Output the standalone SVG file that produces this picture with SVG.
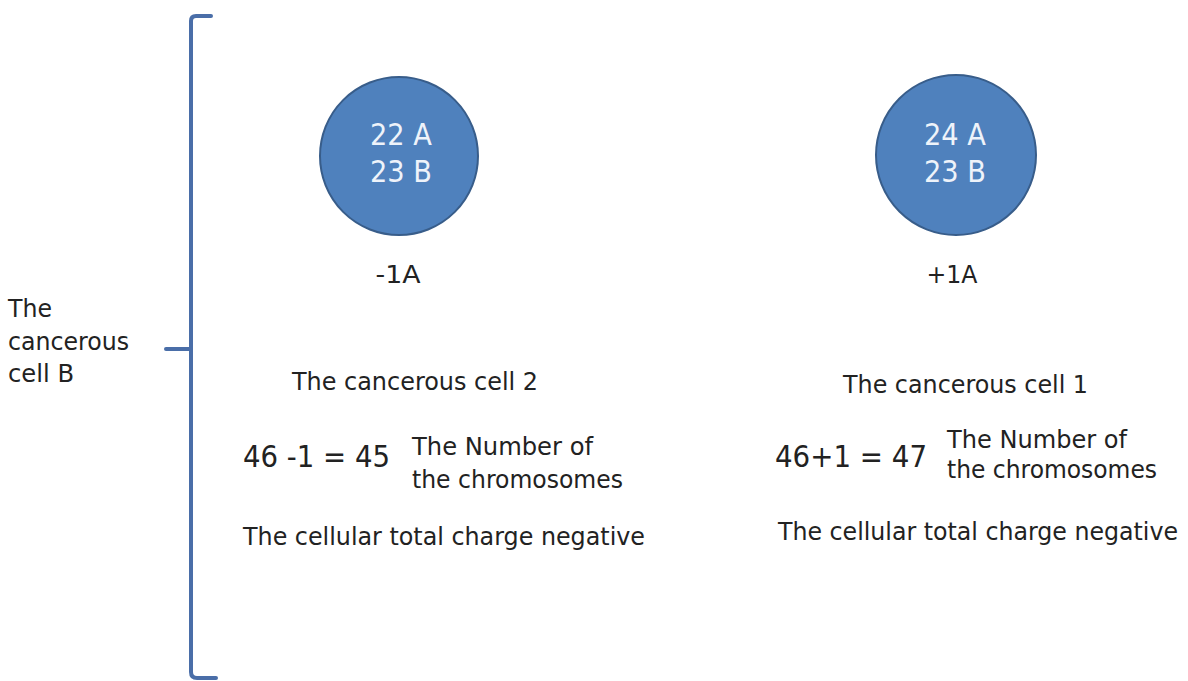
<svg xmlns="http://www.w3.org/2000/svg" width="1188" height="681" viewBox="0 0 1188 681">
<style>
.t{font-family:"DejaVu Sans","Liberation Sans",sans-serif;fill:#222;}
.c{fill:#4f81bd;stroke:#385d8a;stroke-width:2;}
.ct{font-family:"DejaVu Sans","Liberation Sans",sans-serif;fill:#eef3fa;font-size:30px;text-anchor:middle;}
.br{fill:none;stroke:#4a6ea8;stroke-width:4;stroke-linejoin:round;stroke-linecap:round;}
</style>
<rect width="1188" height="681" fill="#fff"/>
<g id="bracket">
<path class="br" d="M211,16 L196,16 Q191,16 191,21 L191,672 Q191,678 197,678 L216,678"/>
<path class="br" d="M166,349 L191,349"/>
</g>
<g id="label-cell-B">
<text class="t" font-size="24" x="8" y="317" textLength="44" lengthAdjust="spacingAndGlyphs">The</text>
<text class="t" font-size="24" x="8" y="350" textLength="121" lengthAdjust="spacingAndGlyphs">cancerous</text>
<text class="t" font-size="24" x="8" y="382" textLength="66" lengthAdjust="spacingAndGlyphs">cell B</text>
</g>
<g id="cell2">
<circle class="c" cx="399" cy="156" r="79"/>
<text class="ct" x="401" y="145" textLength="62" lengthAdjust="spacingAndGlyphs">22 A</text>
<text class="ct" x="401" y="182" textLength="62" lengthAdjust="spacingAndGlyphs">23 B</text>
<text class="t" font-size="24" x="398" y="283" text-anchor="middle" textLength="45" lengthAdjust="spacingAndGlyphs">-1A</text>
</g>
<g id="cell1">
<circle class="c" cx="956" cy="155" r="80"/>
<text class="ct" x="955" y="145" textLength="62" lengthAdjust="spacingAndGlyphs">24 A</text>
<text class="ct" x="955" y="182" textLength="62" lengthAdjust="spacingAndGlyphs">23 B</text>
<text class="t" font-size="24" x="952" y="283" text-anchor="middle" textLength="51" lengthAdjust="spacingAndGlyphs">+1A</text>
</g>
<g id="text-cell2">
<text class="t" font-size="24" x="292" y="390" textLength="246" lengthAdjust="spacingAndGlyphs">The cancerous cell 2</text>
<text class="t" font-size="30" x="243" y="467" textLength="147" lengthAdjust="spacingAndGlyphs">46 -1 = 45</text>
<text class="t" font-size="24" x="412" y="455" textLength="181" lengthAdjust="spacingAndGlyphs">The Number of</text>
<text class="t" font-size="24" x="412" y="488" textLength="211" lengthAdjust="spacingAndGlyphs">the chromosomes</text>
<text class="t" font-size="24" x="243" y="545" textLength="402" lengthAdjust="spacingAndGlyphs">The cellular total charge negative</text>
</g>
<g id="text-cell1">
<text class="t" font-size="24" x="843" y="393" textLength="245" lengthAdjust="spacingAndGlyphs">The cancerous cell 1</text>
<text class="t" font-size="30" x="775" y="467" textLength="152" lengthAdjust="spacingAndGlyphs">46+1 = 47</text>
<text class="t" font-size="24" x="947" y="448" textLength="180" lengthAdjust="spacingAndGlyphs">The Number of</text>
<text class="t" font-size="24" x="947" y="478" textLength="210" lengthAdjust="spacingAndGlyphs">the chromosomes</text>
<text class="t" font-size="24" x="778" y="540" textLength="400" lengthAdjust="spacingAndGlyphs">The cellular total charge negative</text>
</g>
<g id="connectors"></g>
</svg>
